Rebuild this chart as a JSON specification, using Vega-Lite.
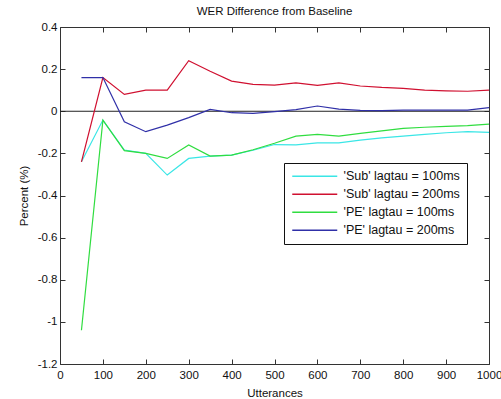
{
  "$schema": "https://vega.github.io/schema/vega-lite/v6.json",
  "autosize": "none",
  "width": 429,
  "height": 337,
  "padding": {"left": 60, "top": 27, "right": 12, "bottom": 35},
  "background": "white",
  "config": {
    "font": "Liberation Sans",
    "view": {"stroke": "#333333", "strokeWidth": 1},
    "axis": {"labelFont": "Liberation Sans", "titleFont": "Liberation Sans", "labelFontSize": 11.5, "titleFontSize": 11.5, "titleFontWeight": "normal", "labelColor": "#111111", "titleColor": "#111111", "domainColor": "#333333", "tickColor": "#333333", "grid": false}
  },
  "title": {"text": "WER Difference from Baseline", "fontSize": 11.5, "fontWeight": "normal", "font": "Liberation Sans", "color": "#111111", "offset": 4},
  "datasets": {
    "zero": [{"y": 0}],
    "series": [
      {"x": 50, "y": -0.24, "s": "'Sub' lagtau = 100ms"},
      {"x": 100, "y": -0.042, "s": "'Sub' lagtau = 100ms"},
      {"x": 150, "y": -0.184, "s": "'Sub' lagtau = 100ms"},
      {"x": 200, "y": -0.2, "s": "'Sub' lagtau = 100ms"},
      {"x": 250, "y": -0.303, "s": "'Sub' lagtau = 100ms"},
      {"x": 300, "y": -0.224, "s": "'Sub' lagtau = 100ms"},
      {"x": 350, "y": -0.213, "s": "'Sub' lagtau = 100ms"},
      {"x": 400, "y": -0.208, "s": "'Sub' lagtau = 100ms"},
      {"x": 450, "y": -0.185, "s": "'Sub' lagtau = 100ms"},
      {"x": 500, "y": -0.158, "s": "'Sub' lagtau = 100ms"},
      {"x": 550, "y": -0.16, "s": "'Sub' lagtau = 100ms"},
      {"x": 600, "y": -0.15, "s": "'Sub' lagtau = 100ms"},
      {"x": 650, "y": -0.15, "s": "'Sub' lagtau = 100ms"},
      {"x": 700, "y": -0.137, "s": "'Sub' lagtau = 100ms"},
      {"x": 750, "y": -0.126, "s": "'Sub' lagtau = 100ms"},
      {"x": 800, "y": -0.118, "s": "'Sub' lagtau = 100ms"},
      {"x": 850, "y": -0.11, "s": "'Sub' lagtau = 100ms"},
      {"x": 900, "y": -0.102, "s": "'Sub' lagtau = 100ms"},
      {"x": 950, "y": -0.097, "s": "'Sub' lagtau = 100ms"},
      {"x": 1000, "y": -0.1, "s": "'Sub' lagtau = 100ms"},
      {"x": 50, "y": -0.24, "s": "'Sub' lagtau = 200ms"},
      {"x": 100, "y": 0.16, "s": "'Sub' lagtau = 200ms"},
      {"x": 150, "y": 0.08, "s": "'Sub' lagtau = 200ms"},
      {"x": 200, "y": 0.1, "s": "'Sub' lagtau = 200ms"},
      {"x": 250, "y": 0.1, "s": "'Sub' lagtau = 200ms"},
      {"x": 300, "y": 0.24, "s": "'Sub' lagtau = 200ms"},
      {"x": 350, "y": 0.19, "s": "'Sub' lagtau = 200ms"},
      {"x": 400, "y": 0.143, "s": "'Sub' lagtau = 200ms"},
      {"x": 450, "y": 0.128, "s": "'Sub' lagtau = 200ms"},
      {"x": 500, "y": 0.124, "s": "'Sub' lagtau = 200ms"},
      {"x": 550, "y": 0.135, "s": "'Sub' lagtau = 200ms"},
      {"x": 600, "y": 0.123, "s": "'Sub' lagtau = 200ms"},
      {"x": 650, "y": 0.135, "s": "'Sub' lagtau = 200ms"},
      {"x": 700, "y": 0.12, "s": "'Sub' lagtau = 200ms"},
      {"x": 750, "y": 0.113, "s": "'Sub' lagtau = 200ms"},
      {"x": 800, "y": 0.109, "s": "'Sub' lagtau = 200ms"},
      {"x": 850, "y": 0.1, "s": "'Sub' lagtau = 200ms"},
      {"x": 900, "y": 0.097, "s": "'Sub' lagtau = 200ms"},
      {"x": 950, "y": 0.095, "s": "'Sub' lagtau = 200ms"},
      {"x": 1000, "y": 0.1, "s": "'Sub' lagtau = 200ms"},
      {"x": 50, "y": -1.04, "s": "'PE' lagtau = 100ms"},
      {"x": 100, "y": -0.042, "s": "'PE' lagtau = 100ms"},
      {"x": 150, "y": -0.187, "s": "'PE' lagtau = 100ms"},
      {"x": 200, "y": -0.2, "s": "'PE' lagtau = 100ms"},
      {"x": 250, "y": -0.224, "s": "'PE' lagtau = 100ms"},
      {"x": 300, "y": -0.16, "s": "'PE' lagtau = 100ms"},
      {"x": 350, "y": -0.213, "s": "'PE' lagtau = 100ms"},
      {"x": 400, "y": -0.208, "s": "'PE' lagtau = 100ms"},
      {"x": 450, "y": -0.183, "s": "'PE' lagtau = 100ms"},
      {"x": 500, "y": -0.152, "s": "'PE' lagtau = 100ms"},
      {"x": 550, "y": -0.118, "s": "'PE' lagtau = 100ms"},
      {"x": 600, "y": -0.11, "s": "'PE' lagtau = 100ms"},
      {"x": 650, "y": -0.118, "s": "'PE' lagtau = 100ms"},
      {"x": 700, "y": -0.105, "s": "'PE' lagtau = 100ms"},
      {"x": 750, "y": -0.093, "s": "'PE' lagtau = 100ms"},
      {"x": 800, "y": -0.081, "s": "'PE' lagtau = 100ms"},
      {"x": 850, "y": -0.076, "s": "'PE' lagtau = 100ms"},
      {"x": 900, "y": -0.072, "s": "'PE' lagtau = 100ms"},
      {"x": 950, "y": -0.068, "s": "'PE' lagtau = 100ms"},
      {"x": 1000, "y": -0.061, "s": "'PE' lagtau = 100ms"},
      {"x": 50, "y": 0.16, "s": "'PE' lagtau = 200ms"},
      {"x": 100, "y": 0.16, "s": "'PE' lagtau = 200ms"},
      {"x": 150, "y": -0.05, "s": "'PE' lagtau = 200ms"},
      {"x": 200, "y": -0.097, "s": "'PE' lagtau = 200ms"},
      {"x": 250, "y": -0.066, "s": "'PE' lagtau = 200ms"},
      {"x": 300, "y": -0.03, "s": "'PE' lagtau = 200ms"},
      {"x": 350, "y": 0.009, "s": "'PE' lagtau = 200ms"},
      {"x": 400, "y": -0.007, "s": "'PE' lagtau = 200ms"},
      {"x": 450, "y": -0.01, "s": "'PE' lagtau = 200ms"},
      {"x": 500, "y": -0.002, "s": "'PE' lagtau = 200ms"},
      {"x": 550, "y": 0.008, "s": "'PE' lagtau = 200ms"},
      {"x": 600, "y": 0.025, "s": "'PE' lagtau = 200ms"},
      {"x": 650, "y": 0.01, "s": "'PE' lagtau = 200ms"},
      {"x": 700, "y": 0.004, "s": "'PE' lagtau = 200ms"},
      {"x": 750, "y": 0.003, "s": "'PE' lagtau = 200ms"},
      {"x": 800, "y": 0.005, "s": "'PE' lagtau = 200ms"},
      {"x": 850, "y": 0.005, "s": "'PE' lagtau = 200ms"},
      {"x": 900, "y": 0.005, "s": "'PE' lagtau = 200ms"},
      {"x": 950, "y": 0.005, "s": "'PE' lagtau = 200ms"},
      {"x": 1000, "y": 0.017, "s": "'PE' lagtau = 200ms"}
    ]
  },
  "layer": [
    {
      "data": {"name": "zero"},
      "mark": {"type": "rule", "color": "#222222", "strokeWidth": 1},
      "encoding": {
        "y": {"field": "y", "type": "quantitative", "scale": {"domain": [-1.2, 0.4], "nice": false, "zero": false},
          "axis": {"orient": "right", "values": [-1.2, -1, -0.8, -0.6, -0.4, -0.2, 0, 0.2, 0.4], "labels": false, "title": null, "tickSize": -5, "domain": false}}
      }
    },
    {
      "data": {"name": "series"},
      "mark": {"type": "line", "strokeWidth": 1.2},
      "encoding": {
        "x": {"field": "x", "type": "quantitative", "title": "Utterances", "scale": {"domain": [0, 1000], "nice": false},
          "axis": {"values": [0, 100, 200, 300, 400, 500, 600, 700, 800, 900, 1000], "tickSize": -5, "labelPadding": 10, "titlePadding": 7, "domain": false, "labelFlush": false,
            "labelExpr": "toString(datum.value)"}},
        "y": {"field": "y", "type": "quantitative", "title": "Percent (%)", "scale": {"domain": [-1.2, 0.4], "nice": false, "zero": false},
          "axis": {"values": [-1.2, -1, -0.8, -0.6, -0.4, -0.2, 0, 0.2, 0.4], "tickSize": -5, "labelPadding": 8, "titlePadding": 8, "domain": false,
            "labelExpr": "toString(round(datum.value*10)/10)"}},
        "color": {"field": "s", "type": "nominal", "sort": null,
          "scale": {"domain": ["'Sub' lagtau = 100ms", "'Sub' lagtau = 200ms", "'PE' lagtau = 100ms", "'PE' lagtau = 200ms"],
                    "range": ["#3ae6e6", "#d01030", "#30dd40", "#3030a8"]},
          "legend": {"title": null, "orient": "none", "legendX": 224, "legendY": 136, "symbolType": "M-1,0H8", "symbolSize": 100, "symbolStrokeWidth": 1.5,
            "labelFontSize": 12.5, "labelFont": "Liberation Sans", "labelColor": "#111111", "labelOffset": 40, "strokeColor": "#111111", "fillColor": "white", "padding": 7, "rowPadding": 5,
            "labelExpr": "datum.label + '\u00a0\u00a0\u00a0\u00a0\u00a0'"}}
      }
    },
    {
      "data": {"name": "zero"},
      "mark": {"type": "rule", "color": "#333333", "strokeWidth": 1, "opacity": 0},
      "encoding": {
        "x": {"datum": 0, "type": "quantitative", "scale": {"domain": [0, 1000], "nice": false},
          "axis": {"orient": "top", "values": [0, 100, 200, 300, 400, 500, 600, 700, 800, 900, 1000], "labels": false, "title": null, "tickSize": -5, "domain": false}}
      }
    }
  ],
  "resolve": {"axis": {"x": "independent", "y": "independent"}}
}
